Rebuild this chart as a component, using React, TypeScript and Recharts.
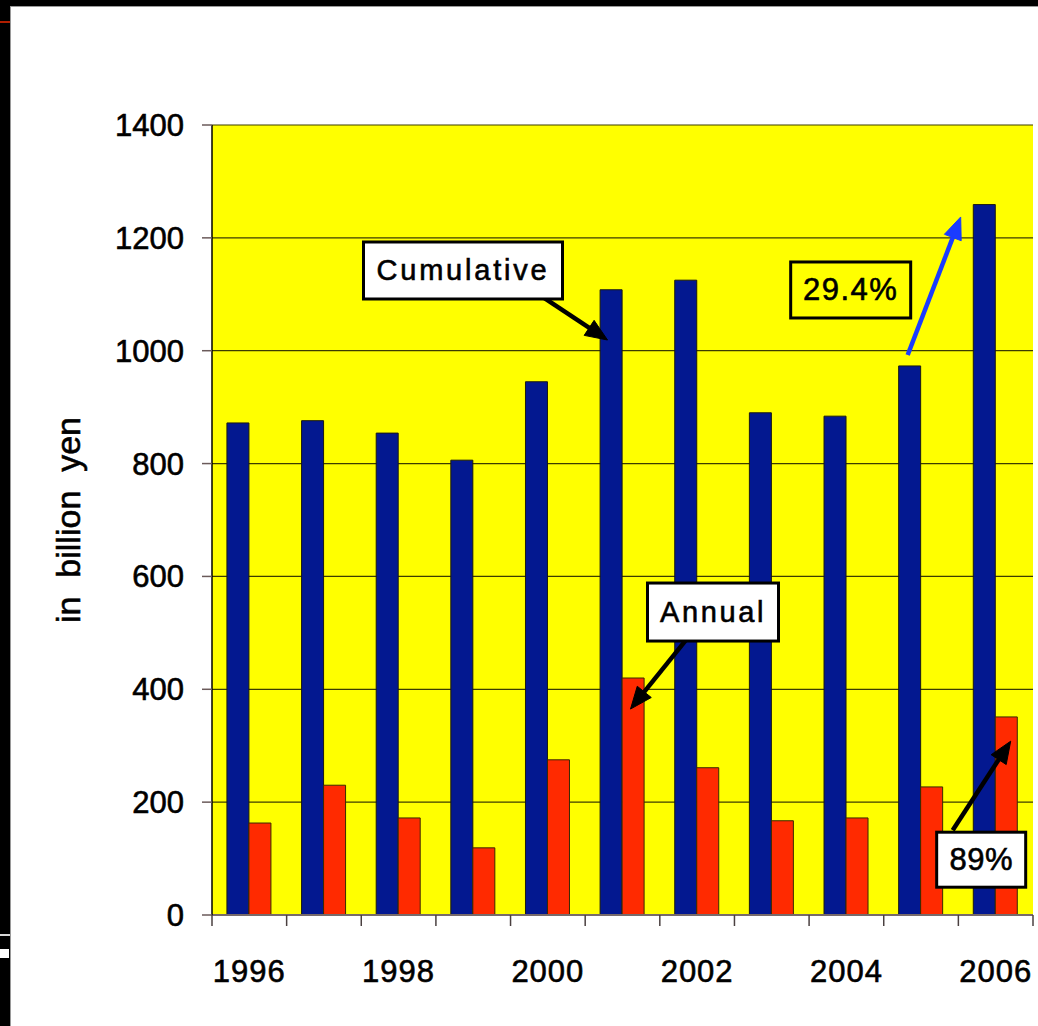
import { BarChart, Bar, XAxis, YAxis, CartesianGrid, ReferenceDot } from 'recharts'

const years = ['1996', '1997', '1998', '1999', '2000', '2001', '2002', '2003', '2004', '2005', '2006']
const cumulative = [872, 876, 854, 806, 945, 1108, 1125, 890, 884, 973, 1259]
const annual = [163, 230, 172, 119, 275, 420, 261, 167, 172, 227, 351]
const yTicks = [0, 200, 400, 600, 800, 1000, 1200, 1400]
const labelledYears = ['1996', '1998', '2000', '2002', '2004', '2006']

const data = years.map((year, i) => ({ year, cumulative: cumulative[i], annual: annual[i] }))

const W = 1038
const H = 1026
const MARGIN = { top: 125, right: 5, left: 0, bottom: 0 }
const Y_AXIS_W = 212
const X_AXIS_H = 111
const PLOT_W = W - MARGIN.left - MARGIN.right - Y_AXIS_W
const BAND = PLOT_W / years.length
const FONT = '"Liberation Sans", Arial, sans-serif'
// a thin outline on glyphs to give the slightly heavy Arial look
const INK = { stroke: '#000', strokeWidth: 0.6 }

// callouts: anchored at a (year, value) point, which is the arrow tip;
// dx shifts the tip off the band centre, tail and box are pixel offsets from the tip
type Callout = {
  year: string
  value: number
  dx: number
  tail: [number, number]
  box: [number, number, number, number]
  text: string
  arrow: string
  boxFill: string
  fontSize: number
  spacing: number
}

const callouts: Callout[] = [
  { year: '2001', value: 1019, dx: -15, tail: [-65, -43], box: [-244, -98, 199, 57], text: 'Cumulative', arrow: '#000', boxFill: '#fff', fontSize: 29, spacing: 2.8 },
  { year: '2001', value: 365, dx: 8, tail: [57, -71], box: [17, -126, 131, 58], text: 'Annual', arrow: '#000', boxFill: '#fff', fontSize: 29, spacing: 2.6 },
  { year: '2006', value: 1237, dx: -35, tail: [-53, 138], box: [-170, 45, 120, 56], text: '29.4%', arrow: '#1a3cff', boxFill: 'none', fontSize: 31, spacing: 1.5 },
  { year: '2006', value: 308, dx: 15, tail: [-58, 89], box: [-74, 91, 89, 55], text: '89%', arrow: '#000', boxFill: '#fff', fontSize: 31, spacing: 0.5 },
]

function Arrow({ x1, y1, x2, y2, color }: { x1: number; y1: number; x2: number; y2: number; color: string }) {
  const len = Math.hypot(x2 - x1, y2 - y1)
  const ux = (x2 - x1) / len
  const uy = (y2 - y1) / len
  const head = 22
  const half = 9
  const bx = x2 - ux * head
  const by = y2 - uy * head
  const pts = [
    [x2, y2],
    [bx - uy * half, by + ux * half],
    [bx + uy * half, by - ux * half],
  ]
    .map(p => p.join(','))
    .join(' ')
  return (
    <g>
      <line x1={x1} y1={y1} x2={bx + ux * 2} y2={by + uy * 2} stroke={color} strokeWidth={4.5} />
      <polygon points={pts} fill={color} stroke={color} strokeWidth={1} strokeLinejoin="round" />
    </g>
  )
}

function CalloutShape({ cx, cy, c }: { cx: number; cy: number; c: Callout }) {
  const tx = cx + c.dx
  const ty = cy
  const [bl, bt, bw, bh] = c.box
  return (
    <g>
      <Arrow x1={tx + c.tail[0]} y1={ty + c.tail[1]} x2={tx} y2={ty} color={c.arrow} />
      <rect x={tx + bl} y={ty + bt} width={bw} height={bh} fill={c.boxFill} stroke="#000" strokeWidth={3} />
      <text
        x={tx + bl + bw / 2}
        y={ty + bt + bh / 2}
        textAnchor="middle"
        dominantBaseline="central"
        fontFamily={FONT}
        fontSize={c.fontSize}
        letterSpacing={c.spacing}
        fill="#000"
        {...INK}
      >
        {c.text}
      </text>
    </g>
  )
}

function YearTick(props: any) {
  const { x, y, payload, index } = props
  const left = x - BAND / 2
  return (
    <g>
      <line x1={left} x2={left} y1={y} y2={y + 11} stroke="#4a4040" strokeWidth={1.5} />
      {index === years.length - 1 && (
        <line x1={x + BAND / 2} x2={x + BAND / 2} y1={y} y2={y + 11} stroke="#4a4040" strokeWidth={1.5} />
      )}
      {labelledYears.includes(payload.value) && (
        <text x={x} y={y + 67} textAnchor="middle" fontFamily={FONT} fontSize={31} letterSpacing={1} fill="#000" {...INK}>
          {payload.value}
        </text>
      )}
    </g>
  )
}

function YTitle(props: any) {
  const { viewBox } = props
  const x = viewBox.x + 68
  const y = viewBox.y + viewBox.height / 2
  return (
    <text
      x={x}
      y={y}
      transform={`rotate(-90 ${x} ${y})`}
      textAnchor="middle"
      dominantBaseline="central"
      fontFamily={FONT}
      fontSize={34}
      fill="#000"
      {...INK}
      style={{ whiteSpace: 'pre' }}
    >
      {'in  billion  yen'}
    </text>
  )
}

export default function App() {
  return (
    <div style={{ position: 'absolute', left: 0, top: 0, width: W, height: H, background: '#000', overflow: 'hidden' }}>
      <div style={{ position: 'absolute', left: 10, top: 6, right: -4, bottom: -4, background: '#fff', borderLeft: '1.5px solid #9a9a9a', borderTop: '1.5px solid #9a9a9a' }} />
      <div style={{ position: 'absolute', left: 0, top: 21, width: 10, height: 2, background: '#b01e00' }} />
      <div style={{ position: 'absolute', left: 0, top: 934, width: 10, height: 2, background: '#d8d8d8' }} />
      <div style={{ position: 'absolute', left: 0, top: 949, width: 9, height: 9, background: '#fff' }} />
      <div style={{ position: 'absolute', left: 0, top: 0 }}>
        <BarChart width={W} height={H} data={data} margin={MARGIN} barCategoryGap="20%" barGap={0}>
          <CartesianGrid vertical={false} fill="#ffff00" stroke="#3c3c00" strokeWidth={1.2} />
          <XAxis
            dataKey="year"
            height={X_AXIS_H}
            interval={0}
            tickLine={false}
            tickSize={0}
            tickMargin={0}
            tick={<YearTick />}
            axisLine={{ stroke: '#776a6a', strokeWidth: 2 }}
          />
          <YAxis
            width={Y_AXIS_W}
            domain={[0, 1400]}
            ticks={yTicks}
            interval={0}
            tickSize={10}
            tickMargin={18}
            tickLine={{ stroke: '#6a5a5a', strokeWidth: 1.5 }}
            axisLine={{ stroke: '#000', strokeWidth: 1.5 }}
            tick={{ fill: '#000', fontSize: 31, fontFamily: FONT, ...INK }}
            label={<YTitle />}
          />
          <YAxis
            yAxisId="edge"
            orientation="right"
            width={0}
            domain={[0, 1400]}
            tick={false}
            tickLine={false}
            axisLine={{ stroke: '#a0a060', strokeWidth: 1.5 }}
          />
          <Bar dataKey="cumulative" fill="#031890" stroke="#1a1a10" strokeWidth={1} isAnimationActive={false} />
          <Bar dataKey="annual" fill="#ff2a00" stroke="#3a2a00" strokeWidth={1} isAnimationActive={false} />
          {callouts.map(c => (
            <ReferenceDot
              key={c.text}
              x={c.year}
              y={c.value}
              r={0}
              ifOverflow="visible"
              shape={(p: any) => <CalloutShape cx={p.cx} cy={p.cy} c={c} />}
            />
          ))}
        </BarChart>
      </div>
    </div>
  )
}
